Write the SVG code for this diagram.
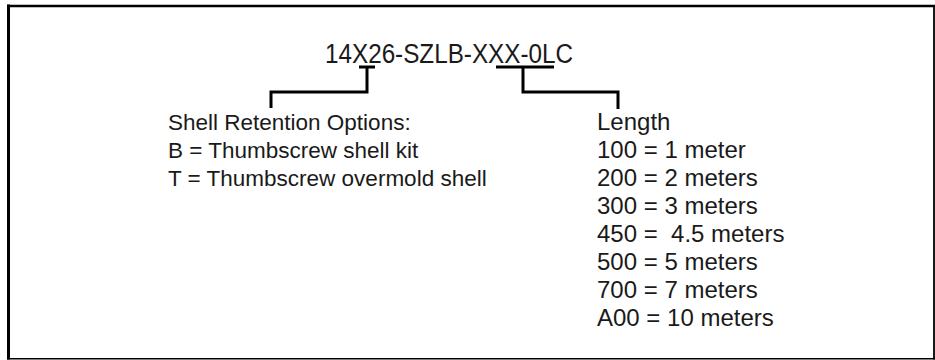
<svg xmlns="http://www.w3.org/2000/svg" width="935" height="360" viewBox="0 0 935 360">
<style>
.t{font-family:"Liberation Sans",Arial,sans-serif;fill:#1a1a1a;}
.title{font-size:27px;}
.left{font-size:22.5px;}
.right{font-size:24px;}
.ln{fill:none;stroke:#000;stroke-width:3;stroke-linejoin:miter;}
</style>
<rect width="935" height="360" fill="#fff"/>
<g id="frame">
<line x1="8.5" y1="4.5" x2="8.5" y2="359.5" stroke="#000" stroke-width="3"/>
<line x1="7" y1="6" x2="935" y2="6" stroke="#000" stroke-width="2.5"/>
<line x1="934" y1="5" x2="934" y2="359.5" stroke="#000" stroke-width="1.8"/>
<line x1="7" y1="358.8" x2="935" y2="358.8" stroke="#000" stroke-width="1.5"/>
</g>
<g id="part-number">
<text class="t title" x="325" y="63" textLength="248" lengthAdjust="spacingAndGlyphs">14X26-SZLB-XXX-0LC</text>
</g>
<g id="connectors">
<path class="ln" d="M359,67 H375 M367,67 V92 H271 V108"/>
<path class="ln" d="M496,67 H554 M523,67 V92 H618 V109"/>
</g>
<g id="shell-options">
<text class="t left" x="168" y="130">Shell Retention Options:</text>
<text class="t left" x="168" y="158">B = Thumbscrew shell kit</text>
<text class="t left" x="168" y="186">T = Thumbscrew overmold shell</text>
</g>
<g id="length-options">
<text class="t right" x="597" y="130">Length</text>
<text class="t right" x="597" y="158">100 = 1 meter</text>
<text class="t right" x="597" y="186">200 = 2 meters</text>
<text class="t right" x="597" y="214">300 = 3 meters</text>
<text class="t right" x="597" y="242" xml:space="preserve">450 =  4.5 meters</text>
<text class="t right" x="597" y="270">500 = 5 meters</text>
<text class="t right" x="597" y="298">700 = 7 meters</text>
<text class="t right" x="597" y="326">A00 = 10 meters</text>
</g>
</svg>
